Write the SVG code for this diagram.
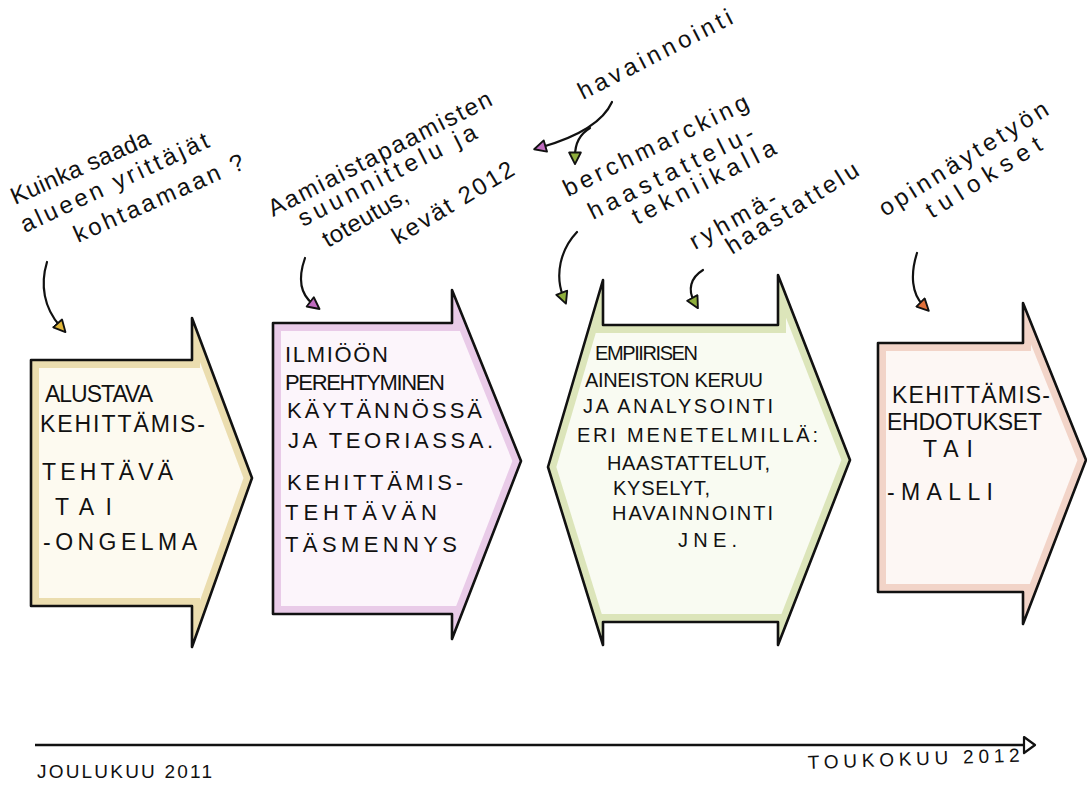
<svg xmlns="http://www.w3.org/2000/svg" width="1087" height="785" viewBox="0 0 1087 785">
<style>
.bg{fill:#ffffff}
.outline{fill:none;stroke:#111;stroke-width:2.6;stroke-linejoin:round}
.tint{fill:none;stroke-width:16;opacity:0.55}
.box{font-family:"Liberation Sans","DejaVu Sans",sans-serif;font-size:23px;fill:#111}
.box2{font-family:"Liberation Sans","DejaVu Sans",sans-serif;font-size:22px;fill:#111}
.box3{font-family:"Liberation Sans","DejaVu Sans",sans-serif;font-size:20px;fill:#111}
.note{font-family:"Liberation Sans","DejaVu Sans",sans-serif;font-size:24px;fill:#111}
.con{fill:none;stroke:#111;stroke-width:2.2;stroke-linecap:round}
.axis{font-family:"Liberation Sans","DejaVu Sans",sans-serif;font-size:19px;fill:#111}
</style>
<defs>
<path id="s1" d="M31,360 L192,360 L192,318 L252,478 L192,647 L192,606 L31,606 Z"/>
<path id="s2" d="M273,323 L452,323 L452,290 L521,461 L452,639 L452,614 L273,614 Z"/>
<path id="s3" d="M603,280 L603,325 L778,325 L778,275 L850,460 L778,645 L778,622 L603,622 L603,645 L548,467 Z"/>
<path id="s4" d="M878,343 L1023,343 L1023,303 L1086,460 L1023,624 L1023,592 L878,592 Z"/>
<clipPath id="c1"><use href="#s1"/></clipPath>
<clipPath id="c2"><use href="#s2"/></clipPath>
<clipPath id="c3"><use href="#s3"/></clipPath>
<clipPath id="c4"><use href="#s4"/></clipPath>
<marker id="mY" viewBox="0 0 12 12" refX="4" refY="6" markerWidth="14" markerHeight="14" markerUnits="userSpaceOnUse" orient="auto"><path d="M1,1 L11,6 L1,11 Z" fill="#e2b83a" stroke="#111" stroke-width="1.6" stroke-linejoin="round"/></marker>
<marker id="mP" viewBox="0 0 12 12" refX="4" refY="6" markerWidth="14" markerHeight="14" markerUnits="userSpaceOnUse" orient="auto"><path d="M1,1 L11,6 L1,11 Z" fill="#c06cc0" stroke="#111" stroke-width="1.6" stroke-linejoin="round"/></marker>
<marker id="mG" viewBox="0 0 12 12" refX="4" refY="6" markerWidth="14" markerHeight="14" markerUnits="userSpaceOnUse" orient="auto"><path d="M1,1 L11,6 L1,11 Z" fill="#8fae3c" stroke="#111" stroke-width="1.6" stroke-linejoin="round"/></marker>
<marker id="mO" viewBox="0 0 12 12" refX="4" refY="6" markerWidth="14" markerHeight="14" markerUnits="userSpaceOnUse" orient="auto"><path d="M1,1 L11,6 L1,11 Z" fill="#e0703a" stroke="#111" stroke-width="1.6" stroke-linejoin="round"/></marker>
</defs>
<rect class="bg" x="0" y="0" width="1087" height="785"/>

<g id="node1">
<use href="#s1" fill="#fdfaf0"/>
<use href="#s1" class="tint" stroke="#dcc47a" clip-path="url(#c1)"/>
<use href="#s1" class="outline"/>
<text class="box" x="45" y="402" textLength="108" lengthAdjust="spacing">ALUSTAVA</text>
<text class="box" x="40" y="432" textLength="165" lengthAdjust="spacing">KEHITTÄMIS-</text>
<text class="box" x="42" y="480" textLength="131" lengthAdjust="spacing">TEHTÄVÄ</text>
<text class="box" x="55" y="515" textLength="57" lengthAdjust="spacing">TAI</text>
<text class="box" x="43" y="550" textLength="154" lengthAdjust="spacing">-ONGELMA</text>
</g>

<g id="node2">
<use href="#s2" fill="#fcf5fb"/>
<use href="#s2" class="tint" stroke="#d8a8d8" clip-path="url(#c2)"/>
<use href="#s2" class="outline"/>
<text class="box2" x="285" y="362" textLength="103" lengthAdjust="spacing">ILMIÖÖN</text>
<text class="box2" x="285" y="390" textLength="160" lengthAdjust="spacing">PEREHTYMINEN</text>
<text class="box2" x="287" y="418" textLength="195" lengthAdjust="spacing">KÄYTÄNNÖSSÄ</text>
<text class="box2" x="288" y="448" textLength="205" lengthAdjust="spacing">JA TEORIASSA.</text>
<text class="box2" x="287" y="490" textLength="176" lengthAdjust="spacing">KEHITTÄMIS-</text>
<text class="box2" x="285" y="520" textLength="152" lengthAdjust="spacing">TEHTÄVÄN</text>
<text class="box2" x="285" y="552" textLength="172" lengthAdjust="spacing">TÄSMENNYS</text>
</g>

<g id="node3">
<use href="#s3" fill="#f9fbf2"/>
<use href="#s3" class="tint" stroke="#c4d48c" clip-path="url(#c3)"/>
<use href="#s3" class="outline"/>
<text class="box3" x="595" y="360" textLength="103" lengthAdjust="spacing">EMPIIRISEN</text>
<text class="box3" x="585" y="387" textLength="178" lengthAdjust="spacing">AINEISTON KERUU</text>
<text class="box3" x="583" y="413" textLength="190" lengthAdjust="spacing">JA ANALYSOINTI</text>
<text class="box3" x="577" y="442" textLength="241" lengthAdjust="spacing">ERI MENETELMILLÄ:</text>
<text class="box3" x="607" y="470" textLength="163" lengthAdjust="spacing">HAASTATTELUT,</text>
<text class="box3" x="613" y="495" textLength="97" lengthAdjust="spacing">KYSELYT,</text>
<text class="box3" x="612" y="520" textLength="161" lengthAdjust="spacing">HAVAINNOINTI</text>
<text class="box3" x="678" y="547" textLength="59" lengthAdjust="spacing">JNE.</text>
</g>

<g id="node4">
<use href="#s4" fill="#fdf7f4"/>
<use href="#s4" class="tint" stroke="#eab8a4" clip-path="url(#c4)"/>
<use href="#s4" class="outline"/>
<text class="box" x="892" y="403" textLength="158" lengthAdjust="spacing">KEHITTÄMIS-</text>
<text class="box" x="887" y="430" textLength="155" lengthAdjust="spacing">EHDOTUKSET</text>
<text class="box" x="923" y="457" textLength="50" lengthAdjust="spacing">TAI</text>
<text class="box" x="887" y="500" textLength="106" lengthAdjust="spacing">-MALLI</text>
</g>

<g id="note1">
<text class="note" transform="translate(15,205) rotate(-24)" textLength="150" lengthAdjust="spacing">Kuinka saada</text>
<text class="note" transform="translate(25,233) rotate(-25)" textLength="205" lengthAdjust="spacing">alueen yrittäjät</text>
<text class="note" transform="translate(78,243) rotate(-24)" textLength="184" lengthAdjust="spacing">kohtaamaan ?</text>
</g>

<g id="note2">
<text class="note" transform="translate(273,217) rotate(-27)" textLength="248" lengthAdjust="spacing">Aamiaistapaamisten</text>
<text class="note" transform="translate(303,227) rotate(-27)" textLength="197" lengthAdjust="spacing">suunnittelu ja</text>
<text class="note" transform="translate(328,248) rotate(-30)" textLength="95" lengthAdjust="spacing">toteutus,</text>
<text class="note" transform="translate(398,245) rotate(-31)" textLength="138" lengthAdjust="spacing">kevät 2012</text>
</g>

<g id="note3">
<text class="note" transform="translate(583,100) rotate(-27)" textLength="170" lengthAdjust="spacing">havainnointi</text>
</g>

<g id="note4">
<text class="note" transform="translate(568,197) rotate(-26)" textLength="203" lengthAdjust="spacing">berchmarcking</text>
<text class="note" transform="translate(593,220) rotate(-26.5)" textLength="182" lengthAdjust="spacing">haastattelu-</text>
<text class="note" transform="translate(637,225) rotate(-27)" textLength="158" lengthAdjust="spacing">tekniikalla</text>
</g>

<g id="note5">
<text class="note" transform="translate(695,250) rotate(-29)" textLength="96" lengthAdjust="spacing">ryhmä-</text>
<text class="note" transform="translate(732,255) rotate(-32)" textLength="152" lengthAdjust="spacing">haastattelu</text>
</g>

<g id="note6">
<text class="note" transform="translate(885,217) rotate(-32)" textLength="195" lengthAdjust="spacing">opinnäytetyön</text>
<text class="note" transform="translate(932,219) rotate(-32)" textLength="132" lengthAdjust="spacing">tulokset</text>
</g>

<g id="connectors">
<path class="con" d="M47,262 C40,285 44,308 60,326" marker-end="url(#mY)"/>
<path class="con" d="M305,258 C298,278 300,294 313,304" marker-end="url(#mP)"/>
<path class="con" d="M612,102 C603,122 580,136 542,147" marker-end="url(#mP)"/>
<path class="con" d="M590,128 C580,134 575,144 575,156" marker-end="url(#mG)"/>
<path class="con" d="M577,232 C560,250 555,275 563,296" marker-end="url(#mG)"/>
<path class="con" d="M703,270 C690,278 688,290 694,301" marker-end="url(#mG)"/>
<path class="con" d="M917,253 C910,275 912,294 923,305" marker-end="url(#mO)"/>
</g>

<g id="timeline">
<line x1="35" y1="745" x2="1024" y2="745" stroke="#111" stroke-width="2.6"/>
<path d="M1024,737 L1035,745 L1024,753 Z" fill="#fff" stroke="#111" stroke-width="2.2" stroke-linejoin="round"/>
<text class="axis" x="37" y="778" textLength="175" lengthAdjust="spacing">JOULUKUU 2011</text>
<text class="axis" transform="translate(808,769) rotate(-2)" font-size="21" textLength="212" lengthAdjust="spacing">TOUKOKUU 2012</text>
</g>
</svg>
